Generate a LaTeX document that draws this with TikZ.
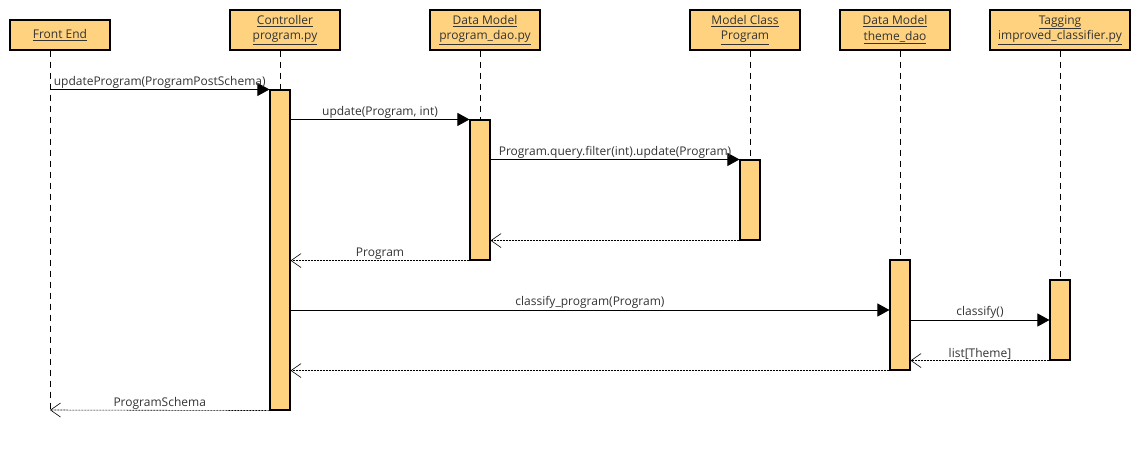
\documentclass[tikz,border=0pt]{standalone}
\usepackage{fontspec}
\setmainfont{Open Sans}
\usetikzlibrary{arrows.meta}
\definecolor{actfill}{HTML}{FFD27F}
\definecolor{txt}{HTML}{333333}
\begin{document}
\begin{tikzpicture}[x=1pt,y=-1pt,
  font=\fontsize{12}{15.5}\selectfont,
  head/.style={draw, fill=actfill, text=txt, align=center, inner sep=0pt, line width=1.1pt, minimum height=40pt},
  act/.style={draw, fill=actfill, minimum width=20pt, inner sep=0pt, line width=1.1pt},
  life/.style={dash pattern=on 6pt off 5pt, line width=0.9pt},
  msg/.style={-{Triangle[length=12pt,width=13pt]}, line width=0.9pt},
  ret/.style={-{Straight Barb[length=10pt,width=14pt]}, dash pattern=on 2pt off 1pt, line width=0.6pt},
  lbl/.style={above=0pt, text=txt, inner sep=1pt}]
\useasboundingbox (0,0) rectangle (1140,450);
\node[head, minimum width=100pt, minimum height=30pt] (fe) at (60,35) {\underline{Front End}};
\node[head, minimum width=110pt] (ctrl) at (285,30) {\underline{Controller}\\\underline{program.py}};
\node[head, minimum width=110pt] (pdao) at (485,30) {\underline{Data Model}\\\underline{program\_dao.py}};
\node[head, minimum width=110pt] (mcls) at (745,30) {\underline{Model Class}\\\underline{Program}};
\node[head, minimum width=110pt] (tdao) at (895,30) {\underline{Data Model}\\\underline{theme\_dao}};
\node[head, minimum width=140pt] (tag) at (1060,30) {\underline{Tagging}\\\underline{improved\_classifier.py}};
\coordinate (feend) at (50,410);
\node[act, minimum height=320pt] (a1) at (280,250) {};
\node[act, minimum height=140pt] (a2) at (480,190) {};
\node[act, minimum height=80pt] (a3) at (750,200) {};
\node[act, minimum height=110pt] (a4) at (900,315) {};
\node[act, minimum height=80pt] (a5) at (1060,320) {};
\draw[life] (fe.south -| feend) -- (feend);
\draw[life] (ctrl.south -| a1) -- (a1.north);
\draw[life] (pdao.south -| a2) -- (a2.north);
\draw[life] (mcls.south -| a3) -- (a3.north);
\draw[life] (tdao.south -| a4) -- (a4.north);
\draw[life] (tag.south -| a5) -- (a5.north);
\draw[msg] (feend |- a1.north) -- (a1.north west) node[lbl, midway] {updateProgram(ProgramPostSchema)};
\draw[msg] (a1.east |- a2.north) -- (a2.north west) node[lbl, midway] {update(Program, int)};
\draw[msg] (a2.east |- a3.north) -- (a3.north west) node[lbl, midway] {Program.query.filter(int).update(Program)};
\draw[ret] (a3.south west) -- (a2.east |- a3.south);
\draw[ret] (a2.south west) -- (a1.east |- a2.south) node[lbl, midway] {Program};
\draw[msg] (a1.east |- 0,310) -- (a4.west |- 0,310) node[lbl, midway] {classify\_program(Program)};
\draw[msg] (a4.east |- 0,320) -- (a5.west |- 0,320) node[lbl, midway] {classify()};
\draw[ret] (a5.south west) -- (a4.east |- a5.south) node[lbl, midway] {list[Theme]};
\draw[ret] (a4.south west) -- (a1.east |- a4.south);
\draw[ret] (a1.south west) -- (feend) node[lbl, midway] {ProgramSchema};
\end{tikzpicture}
\end{document}
